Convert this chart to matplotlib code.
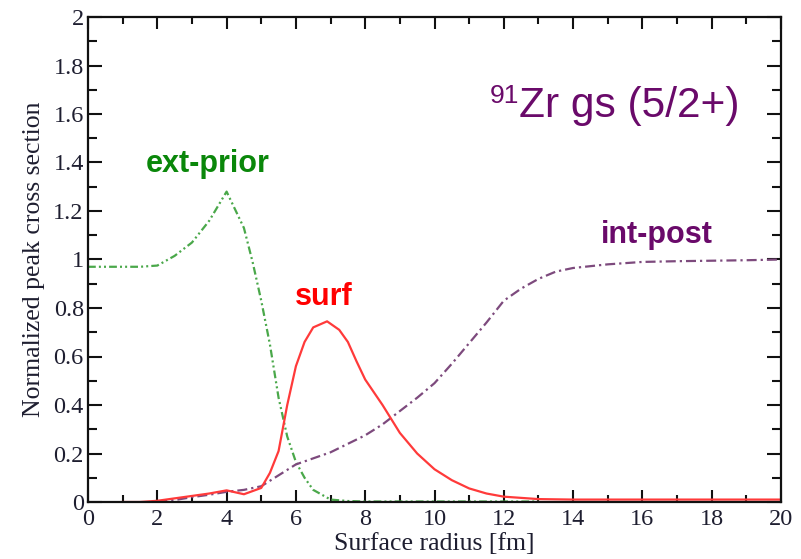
import matplotlib
matplotlib.use("Agg")
import matplotlib.pyplot as plt
from matplotlib.ticker import MultipleLocator, FuncFormatter

# ---- data ----
ext_prior_r = [0, 0.5, 1, 1.5, 2, 2.5, 3, 3.5, 4, 4.5, 4.75, 5, 5.25, 5.5, 5.75, 6, 6.25, 6.5, 7, 7.5, 8, 9, 10, 11, 12, 13]
ext_prior_v = [0.97, 0.97, 0.97, 0.97, 0.975, 1.015, 1.07, 1.16, 1.28, 1.13, 0.99, 0.83, 0.65, 0.43, 0.27, 0.165, 0.10, 0.05, 0.01, 0.004, 0.002, 0.002, 0.002, 0.002, 0.002, 0.002]

surf_r = [1, 1.5, 2, 2.5, 3, 3.5, 4, 4.5, 5, 5.25, 5.5, 5.75, 6, 6.25, 6.5, 6.9, 7.25, 7.5, 7.75, 8, 8.5, 9, 9.5, 10, 10.5, 11, 11.5, 12, 13, 14, 16, 18, 20]
surf_v = [0.0, 0.0, 0.005, 0.015, 0.025, 0.035, 0.048, 0.032, 0.058, 0.12, 0.21, 0.40, 0.56, 0.66, 0.72, 0.745, 0.71, 0.66, 0.58, 0.505, 0.40, 0.285, 0.20, 0.135, 0.09, 0.056, 0.035, 0.022, 0.012, 0.01, 0.01, 0.01, 0.01]

int_post_r = [2, 2.5, 3, 3.5, 4, 4.5, 5, 5.5, 6, 6.5, 7, 7.5, 8, 8.5, 9, 9.5, 10, 10.5, 11, 11.5, 12, 12.5, 13, 13.5, 14, 15, 16, 17, 18, 19, 20]
int_post_v = [0.0, 0.008, 0.02, 0.03, 0.042, 0.05, 0.065, 0.11, 0.155, 0.18, 0.205, 0.24, 0.275, 0.32, 0.375, 0.43, 0.49, 0.57, 0.655, 0.74, 0.83, 0.88, 0.92, 0.95, 0.965, 0.98, 0.99, 0.993, 0.995, 0.997, 1.0]

x_label = "Surface radius [fm]"
y_label = "Normalized peak cross section"

# ---- figure ----
fig = plt.figure(figsize=(8.01, 5.59), dpi=100)
ax = fig.add_axes([88/801, 1-502/559, (781-88)/801, (502-17)/559])

ax.plot(ext_prior_r, ext_prior_v, color="#4aa84a", lw=1.6,
        dashes=(3.5, 1.4, 0.9, 1.4, 0.9, 1.4))
ax.plot(int_post_r, int_post_v, color="#7d4a7d", lw=1.6,
        dashes=(4.5, 1.8, 1.0, 1.8))
ax.plot(surf_r, surf_v, color="#ff3a3a", lw=1.6)

ax.set_xlim(0, 20)
ax.set_ylim(0, 2)
ax.xaxis.set_major_locator(MultipleLocator(2))
ax.xaxis.set_minor_locator(MultipleLocator(1))
ax.yaxis.set_major_locator(MultipleLocator(0.2))
ax.yaxis.set_minor_locator(MultipleLocator(0.1))
ax.yaxis.set_major_formatter(FuncFormatter(lambda v, p: f"{v:.1f}".rstrip("0").rstrip(".") if v != 0 else "0"))
ax.xaxis.set_major_formatter(FuncFormatter(lambda v, p: f"{v:g}"))

tick_color = "#1e1e30"
serif = ["Liberation Serif", "DejaVu Serif"]
ax.tick_params(which="both", direction="in", top=True, right=True, width=1.5, color="#111111")
ax.tick_params(axis="x", which="major", length=8.5, pad=5)
ax.tick_params(axis="x", which="minor", length=5)
ax.tick_params(axis="y", which="major", length=10, pad=3)
ax.tick_params(axis="y", which="minor", length=6.5)
for lab in ax.get_xticklabels() + ax.get_yticklabels():
    lab.set_fontfamily(serif)
    lab.set_fontsize(17.5)
    lab.set_color(tick_color)
for s in ax.spines.values():
    s.set_linewidth(1.6)
    s.set_color("#111111")

ax.set_xlabel(x_label, fontfamily=serif, fontsize=18.5, color=tick_color, labelpad=2)
ax.set_ylabel(y_label, fontfamily=serif, fontsize=18.5, color=tick_color, labelpad=6)

sans = ["Liberation Sans", "DejaVu Sans"]
ax.text(1.665, 1.362, "ext-prior", color="#0a870a", fontsize=22, fontweight="bold",
        fontfamily=sans, ha="left", va="baseline")
ax.text(5.97, 0.812, "surf", color="#ff0000", fontsize=22, fontweight="bold",
        fontfamily=sans, ha="left", va="baseline")
ax.text(14.8, 1.069, "int-post", color="#6a0a6a", fontsize=22, fontweight="bold",
        fontfamily=sans, ha="left", va="baseline")
ax.text(12.44, 1.589, "Zr gs (5/2+)", color="#6a0a6a", fontsize=30.5,
        fontfamily=sans, ha="left", va="baseline")
ax.text(12.44, 1.644, "91", color="#6a0a6a", fontsize=19,
        fontfamily=sans, ha="right", va="baseline")

fig.savefig("out.png", dpi=100)
